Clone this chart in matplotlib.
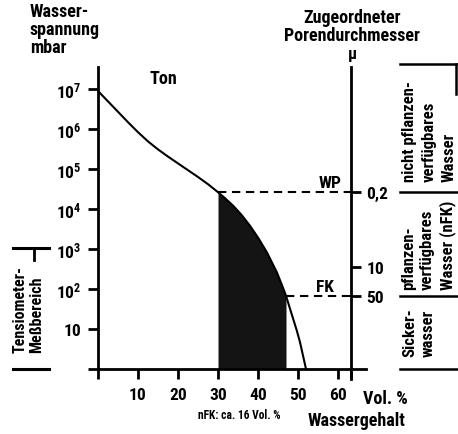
import numpy as np
import matplotlib
matplotlib.use("Agg")
import matplotlib.pyplot as plt
from matplotlib.lines import Line2D

# Wassergehalt (Vol. %) und Wasserspannung (log10 mbar) der Ton-Kurve
wassergehalt = [0, 2.5, 5, 7.5, 10, 12.5, 15, 17.5, 20, 22.5, 25, 27.5, 30, 31.75, 33.8,
                35.9, 38, 40.1, 42.2, 44.7, 45.9, 47, 48.8, 49.7, 50.5, 52]
log_spannung = [6.95, 6.69, 6.43, 6.17, 5.92, 5.69, 5.49, 5.31, 5.14, 4.97, 4.80, 4.62,
                4.42, 4.27, 4.08, 3.85, 3.58, 3.27, 2.92, 2.42, 2.12, 1.83, 1.25, 0.96,
                0.67, 0.0]

wp_x, wp_log = 30, 4.42     # Welkepunkt
fk_x, fk_log = 47, 1.83     # Feldkapazitaet

x_ticks = [10, 20, 30, 40, 50, 60]
y_exp = [1, 2, 3, 4, 5, 6, 7]
y_labels = ["10", r"$\mathbf{10^2}$", r"$\mathbf{10^3}$", r"$\mathbf{10^4}$",
            r"$\mathbf{10^5}$", r"$\mathbf{10^6}$", r"$\mathbf{10^7}$"]
poren_log = [4.42, 2.55, 1.83]
poren_labels = ["0,2", "10", "50"]

plt.rcParams["font.family"] = ["Roboto Condensed", "Liberation Sans", "DejaVu Sans"]
plt.rcParams["font.weight"] = "bold"
plt.rcParams["mathtext.fontset"] = "custom"
plt.rcParams["mathtext.rm"] = "Roboto Condensed:bold"
plt.rcParams["mathtext.bf"] = "Roboto Condensed:bold"

W, H = 458, 435
fig = plt.figure(figsize=(W / 100, H / 100), dpi=100)


def fx(px):
    return px / W


def fy(py):
    return 1 - py / H


ax = fig.add_axes([fx(98), fy(370), fx(366) - fx(98), fy(68) - fy(370)])
x = np.array(wassergehalt)
y = 10.0 ** np.array(log_spannung)

ax.plot(x, y, color="black", lw=1.5, zorder=3)
mask = (x >= wp_x) & (x <= fk_x)
ax.fill_between(x[mask], 1, y[mask], color="#141414", lw=0, zorder=2)

ax.set_yscale("log")
ax.set_xlim(0, 67)
ax.set_ylim(1, 10 ** 7.55)

# Linke und untere Achse
for s in ["top", "right"]:
    ax.spines[s].set_visible(False)
ax.spines["left"].set_linewidth(2)
ax.spines["bottom"].set_linewidth(2)
ax.set_xticks([0] + x_ticks + [63.3])
ax.set_xticklabels([""] + [str(t) for t in x_ticks] + [""])
ax.set_yticks([1] + [10.0 ** e for e in y_exp])
ax.set_yticklabels([""] + y_labels)
ax.yaxis.set_minor_locator(matplotlib.ticker.NullLocator())
ax.tick_params(direction="out", length=7, width=2, labelsize=12.5, pad=5)
ax.tick_params(axis="x", pad=6)

# Rechte Achse: Porendurchmesser
ax2 = ax.twinx()
ax2.set_yscale("log")
ax2.set_ylim(ax.get_ylim())
for s in ["top", "left", "bottom"]:
    ax2.spines[s].set_visible(False)
ax2.spines["right"].set_position(("data", 63.3))
ax2.spines["right"].set_linewidth(2)
ax2.spines["right"].set_bounds(10 ** -0.25, 10 ** 7.55)
ax2.set_yticks([10.0 ** v for v in poren_log])
ax2.set_yticklabels(poren_labels)
ax2.yaxis.set_minor_locator(matplotlib.ticker.NullLocator())
ax2.tick_params(direction="out", length=7, width=2, labelsize=12.5, pad=4)

# WP / FK gestrichelt
ax.plot([wp_x, 63.3], [10 ** wp_log] * 2, color="black", lw=1.5, ls=(0, (4, 2.7)), zorder=3)
ax.plot([fk_x, 63.3], [10 ** fk_log] * 2, color="black", lw=1.5, ls=(0, (4, 2.7)), zorder=3)
ax.text(58, 10 ** 4.47, "WP", fontsize=12.5, ha="center", va="bottom")
ax.text(56.8, 10 ** 1.87, "FK", fontsize=12.5, ha="center", va="bottom")
ax.text(16.3, 10 ** 7.28, "Ton", fontsize=13, ha="center", va="center")

# Beschriftungen ausserhalb
fig.text(fx(30), fy(3), "Wasser-\nspannung\nmbar", fontsize=13, ha="left", va="top",
         linespacing=1.0)
fig.text(fx(352), fy(9), "Zugeordneter\nPorendurchmesser", fontsize=13, ha="center",
         va="top", linespacing=1.0)
fig.text(fx(352), fy(55), "μ", fontsize=12, ha="center", va="center")
fig.text(fx(385), fy(399), "Vol. %", fontsize=13, ha="center", va="center")
fig.text(fx(357), fy(421), "Wassergehalt", fontsize=13, ha="center", va="center")
fig.text(fx(239), fy(416), "nFK: ca. 16 Vol. %", fontsize=8.3, ha="center", va="center")

# Klammern rechts
for py in [65, 193, 297, 370]:
    fig.add_artist(Line2D([fx(400), fx(457)], [fy(py), fy(py)], color="black", lw=1.8))
fig.add_artist(Line2D([fx(456), fx(456)], [fy(65), fy(95)], color="black", lw=1.8))
fig.text(fx(402), fy(131), "nicht pflanzen-\nverfügbares\nWasser", rotation=90,
         fontsize=12, ha="left", va="center", linespacing=1.42)
fig.text(fx(401), fy(245), "pflanzen-\nverfügbares\nWasser (nFK)", rotation=90,
         fontsize=12, ha="left", va="center", linespacing=1.33)
fig.text(fx(402), fy(333), "Sicker-\nwasser", rotation=90,
         fontsize=12, ha="left", va="center", linespacing=1.3)

# Klammer links
for py in [249, 370]:
    fig.add_artist(Line2D([fx(13), fx(49)], [fy(py), fy(py)], color="black", lw=2.2))
fig.add_artist(Line2D([fx(34), fx(34)], [fy(249), fy(261)], color="black", lw=2))
fig.text(fx(13), fy(310), "Tensiometer-\nMeßbereich", rotation=90, fontsize=11.5,
         ha="left", va="center", linespacing=1.12)

fig.savefig("out.png", dpi=100)
